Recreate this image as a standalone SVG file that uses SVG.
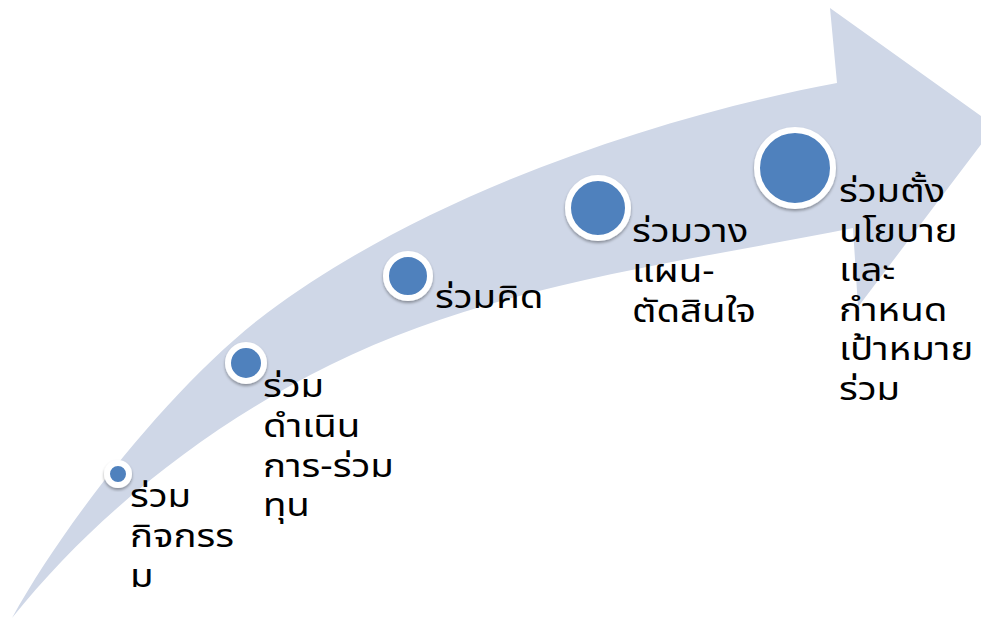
<svg xmlns="http://www.w3.org/2000/svg" width="981" height="621" viewBox="0 0 981 621">
<defs>
<filter id="sh" x="-30%" y="-30%" width="160%" height="160%">
<feGaussianBlur in="SourceAlpha" stdDeviation="1.5"/>
<feOffset dx="0" dy="2" result="b"/>
<feComponentTransfer><feFuncA type="linear" slope="0.35"/></feComponentTransfer>
<feMerge><feMergeNode/><feMergeNode in="SourceGraphic"/></feMerge>
</filter>
</defs>
<style>
.arrow{fill:#CFD7E7;}
.dot{fill:#4F81BD;stroke:#FFFFFF;stroke-width:6;filter:url(#sh);}
.lbl{font-family:"Noto Sans Thai","Noto Sans","DejaVu Sans",sans-serif;font-size:32px;fill:#000000;}
</style>
<rect width="981" height="621" fill="#FFFFFF"/>
<g id="connectors">
<path class="arrow" d="M12,618 C70,513 179,379 267,313 C427,193 660,116 837,83 L830,8 L995,126 L858,307 L853,228 C679,263 491,285 330,365 C209,425 96,513 12,618 Z"/>
</g>
<g id="node1">
<circle class="dot" cx="118" cy="474" r="11"/>
<g transform="translate(130,0) scale(1.2,1)">
<text class="lbl" x="0" y="507">ร่วม</text>
<text class="lbl" x="0" y="547">กิจกรร</text>
<text class="lbl" x="0" y="587">ม</text>
</g>
</g>
<g id="node2">
<circle class="dot" cx="246" cy="363" r="18"/>
<g transform="translate(263,0) scale(1.2,1)">
<text class="lbl" x="0" y="397">ร่วม</text>
<text class="lbl" x="0" y="437">ดำเนิน</text>
<text class="lbl" x="0" y="477">การ-ร่วม</text>
<text class="lbl" x="0" y="516">ทุน</text>
</g>
</g>
<g id="node3">
<circle class="dot" cx="408" cy="276" r="22"/>
<g transform="translate(435,0) scale(1.2,1)">
<text class="lbl" x="0" y="308">ร่วมคิด</text>
</g>
</g>
<g id="node4">
<circle class="dot" cx="598" cy="208" r="30"/>
<g transform="translate(632,0) scale(1.2,1)">
<text class="lbl" x="0" y="242">ร่วมวาง</text>
<text class="lbl" x="0" y="282">แผน-</text>
<text class="lbl" x="0" y="322">ตัดสินใจ</text>
</g>
</g>
<g id="node5">
<circle class="dot" cx="795" cy="168" r="38"/>
<g transform="translate(839,0) scale(1.2,1)">
<text class="lbl" x="0" y="202">ร่วมตั้ง</text>
<text class="lbl" x="0" y="242">นโยบาย</text>
<text class="lbl" x="0" y="281">และ</text>
<text class="lbl" x="0" y="321">กำหนด</text>
<text class="lbl" x="0" y="360">เป้าหมาย</text>
<text class="lbl" x="0" y="400">ร่วม</text>
</g>
</g>
</svg>
